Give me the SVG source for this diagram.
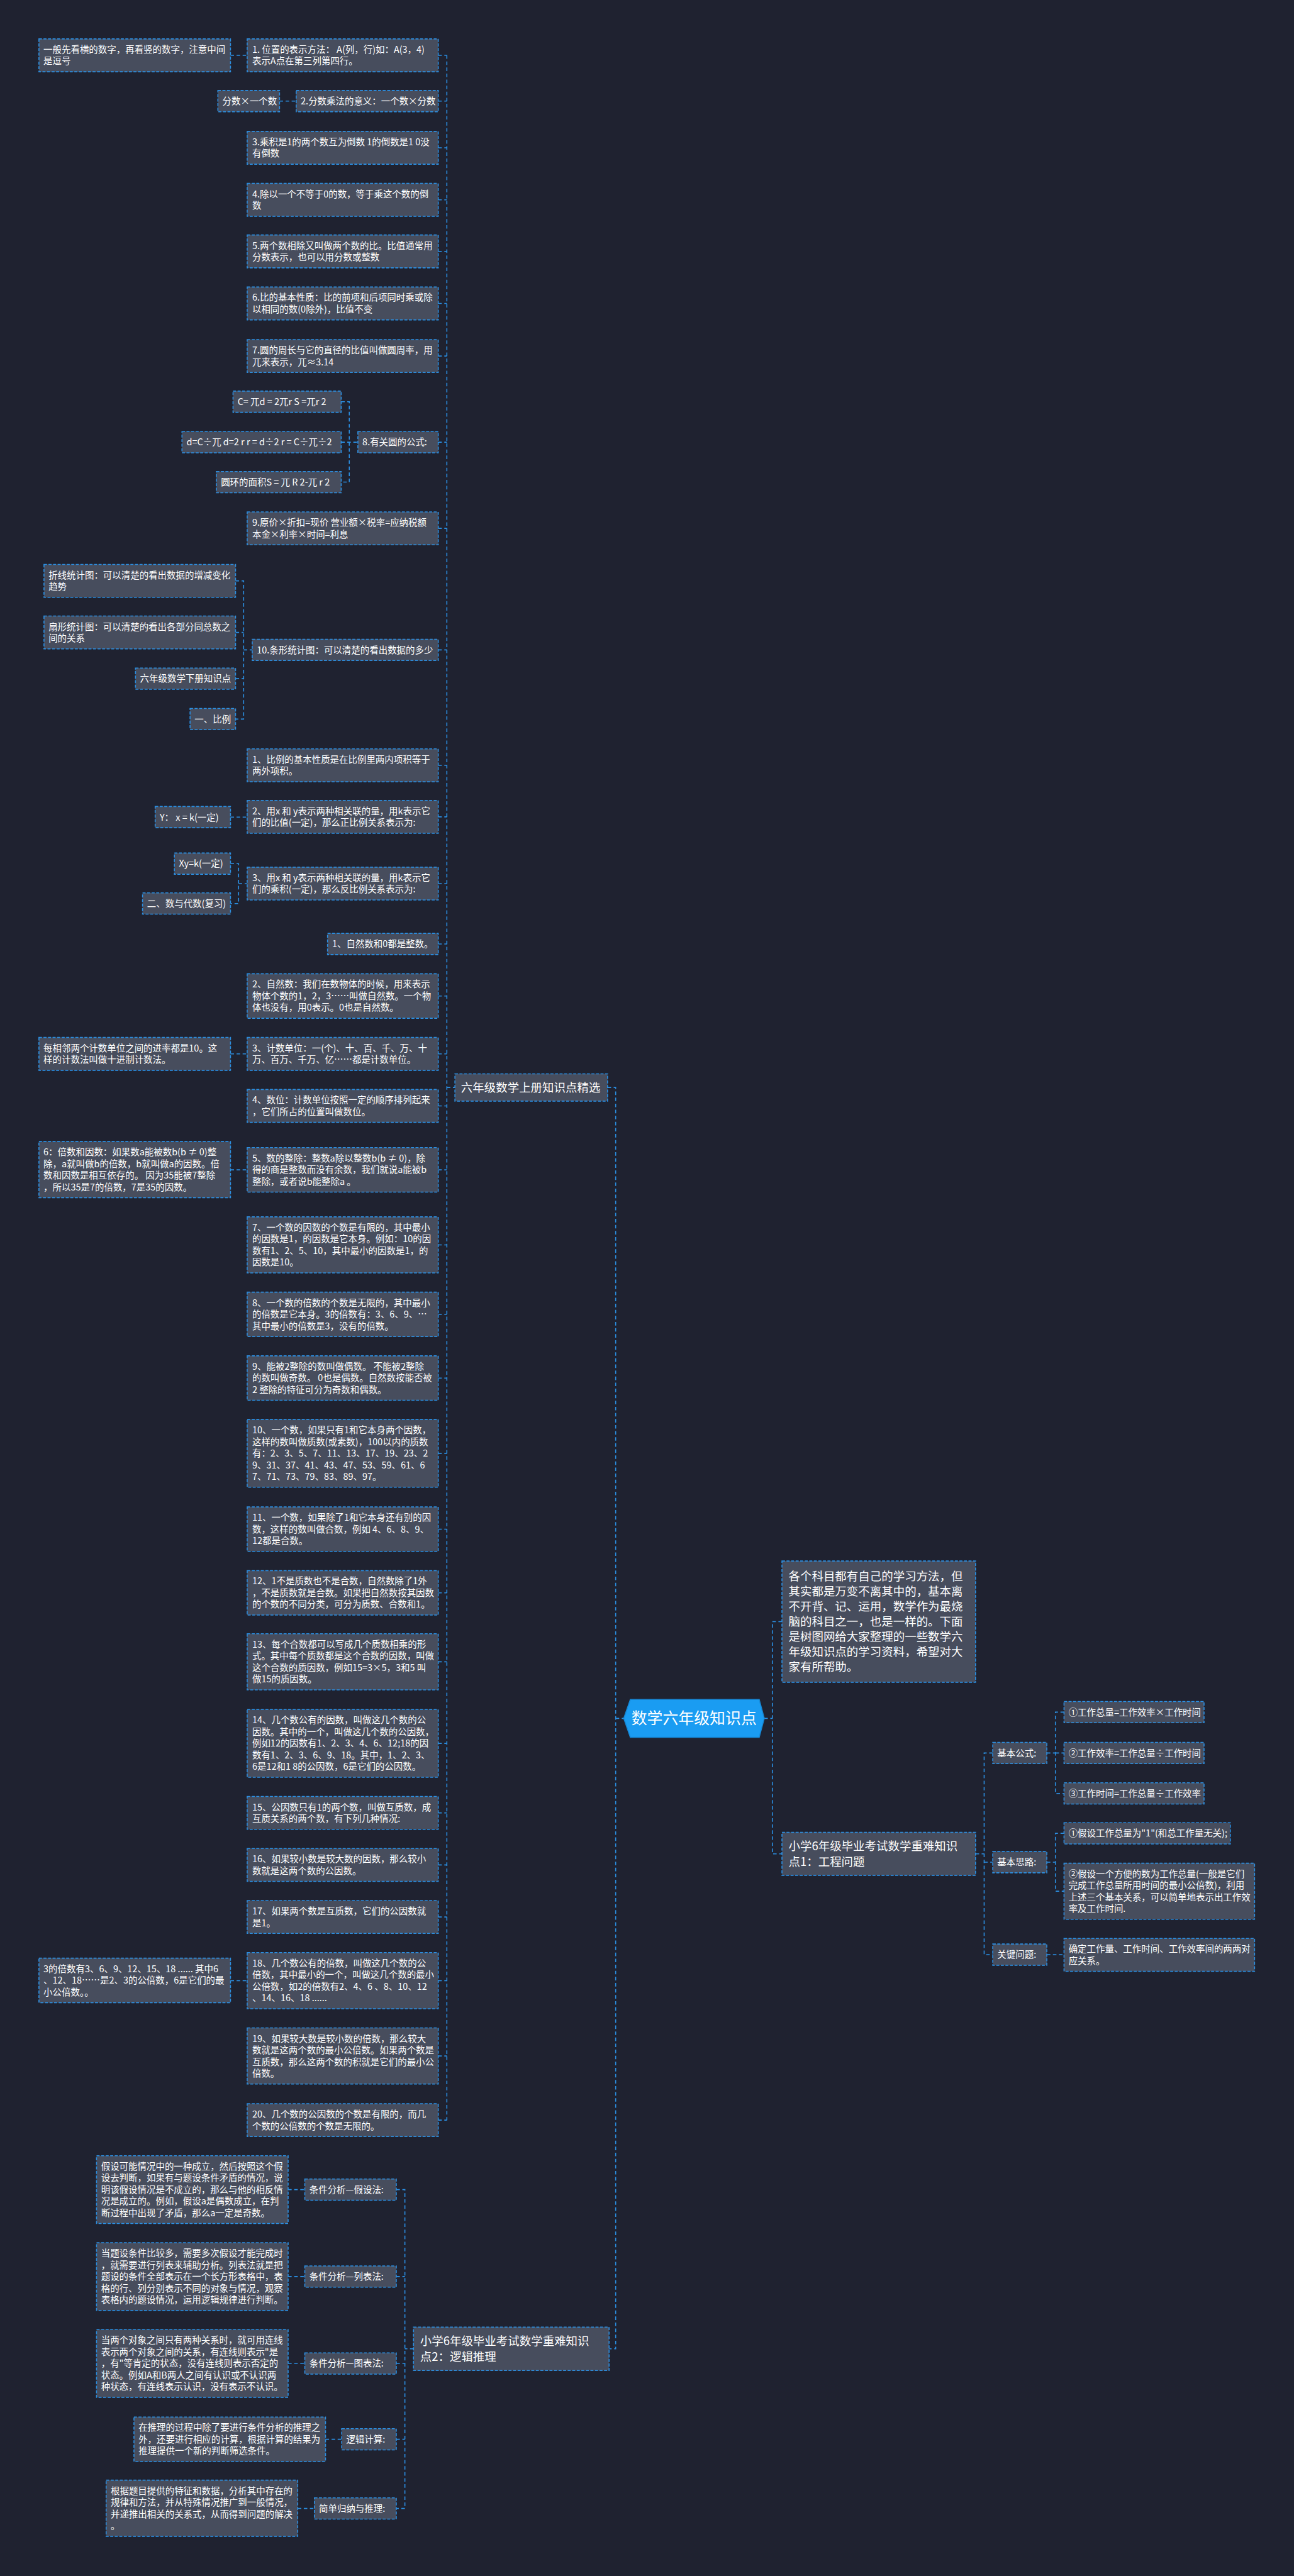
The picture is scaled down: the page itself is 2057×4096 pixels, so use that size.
<svg xmlns="http://www.w3.org/2000/svg" width="2057" height="4096" viewBox="0 0 2057 4096">
<style>
.n rect{fill:#474d5d;stroke:#2b8fe2;stroke-width:2;stroke-dasharray:6 3}
.n text{font-family:"Noto Sans CJK SC","Noto Sans",sans-serif;font-size:18px;fill:#ffffff}
.b text{font-size:23px}
.c path{fill:none;stroke:#2b8fe2;stroke-width:2;stroke-dasharray:7 5}
.ctr text{font-family:"Noto Sans CJK SC","Noto Sans",sans-serif;font-size:31px;fill:#ffffff}
</style>
<rect x="0" y="0" width="2057" height="4096" fill="#1f2230"/>
<g transform="scale(0.80352)">
<g id="connectors" class="c">
<path d="M884 109.5V4195.5"/>
<path d="M867 109.5H884M867 200H884M867 292.5H884M867 395.5H884M867 497.5H884M867 600.5H884M867 704.5H884M867 875H884M867 1045.5H884M867 1286H884M867 1514.5H884M867 1616.5H884M867 1748.5H884M867 1868H884M867 1971H884M867 2085.5H884M867 2188.5H884M867 2315H884M867 2463.5H884M867 2601H884M867 2727H884M867 2876H884M867 3026H884M867 3152H884M867 3288.5H884M867 3450H884M867 3587.5H884M867 3690.5H884M867 3793.5H884M867 3919.5H884M867 4068.5H884M867 4195.5H884"/>
<path d="M884 2152H900"/>
<path d="M456 109.5H489M553 200H586"/>
<path d="M675 795H691V954H675M675 875H708"/>
<path d="M466 1149.5H482V1423H466M466 1251.5H482M466 1343H482M482 1286H499"/>
<path d="M456 1617H489M456 1709H472V1788H456M472 1748.5H489"/>
<path d="M456 2085.5H489M456 2315H489M456 3919.5H489"/>
<path d="M1202 2152H1218V4648H1205M1218 3400.5H1234"/>
<path d="M818 4648H801M784 4333H801V4964H784M784 4505H801M784 4677H801M784 4827H801"/>
<path d="M570 4333H603M570 4505H603M570 4677H603M644 4827H676M589 4964H622"/>
<path d="M1512 3400.5H1528M1547 3209H1528V3668.5H1547"/>
<path d="M1930 3668.5H1947M1964 3469H1947V3868H1964M1947 3685H1964"/>
<path d="M2071 3469H2088M2105 3388H2088V3549H2105M2088 3469H2105"/>
<path d="M2071 3685H2088M2105 3628H2088V3742.5H2105"/>
<path d="M2071 3868H2105"/>
</g>

<g id="center" class="ctr"><polygon points="1234,3400.5 1247,3363 1502,3363 1512,3400.5 1502,3438 1247,3438" fill="#1a9cf2" stroke="#1688d6" stroke-width="2"/><text x="1373" y="3411.5" text-anchor="middle">数学六年级知识点</text></g>

<g id="B1" class="n b"><rect x="900" y="2125" width="302" height="54"/><text x="912" y="2160">六年级数学上册知识点精选</text></g>
<g id="B2" class="n b"><rect x="1547" y="3626" width="383" height="85"/><text x="1560" y="3661"><tspan x="1560">小学6年级毕业考试数学重难知识</tspan><tspan x="1560" dy="31">点1：工程问题</tspan></text></g>
<g id="B3" class="n b"><rect x="818" y="4605" width="387" height="86"/><text x="831" y="4640.5"><tspan x="831">小学6年级毕业考试数学重难知识</tspan><tspan x="831" dy="31">点2：逻辑推理</tspan></text></g>
<g id="R1" class="n b"><rect x="1547" y="3089" width="383" height="240"/><text x="1560" y="3127"><tspan x="1560">各个科目都有自己的学习方法，但</tspan><tspan x="1560" dy="30">其实都是万变不离其中的，基本离</tspan><tspan x="1560" dy="30">不开背、记、运用，数学作为最烧</tspan><tspan x="1560" dy="30">脑的科目之一，也是一样的。下面</tspan><tspan x="1560" dy="30">是树图网给大家整理的一些数学六</tspan><tspan x="1560" dy="30">年级知识点的学习资料，希望对大</tspan><tspan x="1560" dy="30">家有所帮助。</tspan></text></g>

<g id="D1" class="n"><rect x="1964" y="3448" width="107" height="42"/><text x="1973" y="3475.5">基本公式:</text></g>
<g id="D2" class="n"><rect x="1964" y="3664" width="107" height="42"/><text x="1973" y="3691.5">基本思路:</text></g>
<g id="D3" class="n"><rect x="1964" y="3847" width="107" height="42"/><text x="1973" y="3874.5">关键问题:</text></g>
<g id="E1" class="n"><rect x="2105" y="3367" width="277" height="42"/><text x="2114" y="3394.5">①工作总量=工作效率×工作时间</text></g>
<g id="E2" class="n"><rect x="2105" y="3448" width="277" height="42"/><text x="2114" y="3475.5">②工作效率=工作总量÷工作时间</text></g>
<g id="E3" class="n"><rect x="2105" y="3528" width="277" height="42"/><text x="2114" y="3555.5">③工作时间=工作总量÷工作效率</text></g>
<g id="E4" class="n"><rect x="2105" y="3607" width="329" height="42"/><text x="2114" y="3634.5">①假设工作总量为"1"(和总工作量无关);</text></g>
<g id="E5" class="n"><rect x="2105" y="3687" width="377" height="111"/><text x="2114" y="3714.5"><tspan x="2114">②假设一个方便的数为工作总量(一般是它们</tspan><tspan x="2114" dy="23">完成工作总量所用时间的最小公倍数)，利用</tspan><tspan x="2114" dy="23">上述三个基本关系，可以简单地表示出工作效</tspan><tspan x="2114" dy="23">率及工作时间.</tspan></text></g>
<g id="E6" class="n"><rect x="2105" y="3836" width="377" height="65"/><text x="2114" y="3863.5"><tspan x="2114">确定工作量、工作时间、工作效率间的两两对</tspan><tspan x="2114" dy="23">应关系。</tspan></text></g>

<g id="L1" class="n"><rect x="489" y="77" width="378" height="65"/><text x="499" y="104.5"><tspan x="499">1. 位置的表示方法： A(列，行)如：A(3，4)</tspan><tspan x="499" dy="23">表示A点在第三列第四行。</tspan></text></g>
<g id="A0" class="n"><rect x="77" y="77" width="379" height="65"/><text x="86" y="104.5"><tspan x="86">一般先看横的数字，再看竖的数字，注意中间</tspan><tspan x="86" dy="23">是逗号</tspan></text></g>
<g id="L2" class="n"><rect x="586" y="179" width="281" height="42"/><text x="595" y="206.5">2.分数乘法的意义：一个数×分数</text></g>
<g id="A1" class="n"><rect x="431" y="179" width="122" height="42"/><text x="440" y="206.5">分数×一个数</text></g>
<g id="L3" class="n"><rect x="489" y="260" width="378" height="65"/><text x="499" y="287.5"><tspan x="499">3.乘积是1的两个数互为倒数 1的倒数是1 0没</tspan><tspan x="499" dy="23">有倒数</tspan></text></g>
<g id="L4" class="n"><rect x="489" y="363" width="378" height="65"/><text x="499" y="390.5"><tspan x="499">4.除以一个不等于0的数，等于乘这个数的倒</tspan><tspan x="499" dy="23">数</tspan></text></g>
<g id="L5" class="n"><rect x="489" y="465" width="378" height="65"/><text x="499" y="492.5"><tspan x="499">5.两个数相除又叫做两个数的比。比值通常用</tspan><tspan x="499" dy="23">分数表示，也可以用分数或整数</tspan></text></g>
<g id="L6" class="n"><rect x="489" y="568" width="378" height="65"/><text x="499" y="595.5"><tspan x="499">6.比的基本性质：比的前项和后项同时乘或除</tspan><tspan x="499" dy="23">以相同的数(0除外)，比值不变</tspan></text></g>
<g id="L7" class="n"><rect x="489" y="672" width="378" height="65"/><text x="499" y="699.5"><tspan x="499">7.圆的周长与它的直径的比值叫做圆周率，用</tspan><tspan x="499" dy="23">兀来表示，兀≈3.14</tspan></text></g>
<g id="A8a" class="n"><rect x="461" y="774" width="214" height="42"/><text x="470" y="801.5">C= 兀d = 2兀r S =兀r 2</text></g>
<g id="L8" class="n"><rect x="708" y="854" width="159" height="42"/><text x="717" y="881.5">8.有关圆的公式:</text></g>
<g id="A8b" class="n"><rect x="360" y="854" width="315" height="42"/><text x="369" y="881.5">d=C÷兀 d=2 r r = d÷2 r = C÷兀÷2</text></g>
<g id="A8c" class="n"><rect x="428" y="933" width="247" height="42"/><text x="437" y="960.5">圆环的面积S = 兀 R 2-兀 r 2</text></g>
<g id="L9" class="n"><rect x="489" y="1013" width="378" height="65"/><text x="499" y="1040.5"><tspan x="499">9.原价×折扣=现价 营业额×税率=应纳税额</tspan><tspan x="499" dy="23">本金×利率×时间=利息</tspan></text></g>
<g id="A10a" class="n"><rect x="87" y="1117" width="379" height="65"/><text x="96" y="1144.5"><tspan x="96">折线统计图：可以清楚的看出数据的增减变化</tspan><tspan x="96" dy="23">趋势</tspan></text></g>
<g id="A10b" class="n"><rect x="87" y="1219" width="379" height="65"/><text x="96" y="1246.5"><tspan x="96">扇形统计图：可以清楚的看出各部分同总数之</tspan><tspan x="96" dy="23">间的关系</tspan></text></g>
<g id="L10" class="n"><rect x="499" y="1265" width="368" height="42"/><text x="508" y="1292.5">10.条形统计图：可以清楚的看出数据的多少</text></g>
<g id="A10c" class="n"><rect x="268" y="1322" width="198" height="42"/><text x="277" y="1349.5">六年级数学下册知识点</text></g>
<g id="A10d" class="n"><rect x="376" y="1402" width="90" height="42"/><text x="385" y="1429.5">一、比例</text></g>
<g id="L11" class="n"><rect x="489" y="1482" width="378" height="65"/><text x="499" y="1509.5"><tspan x="499">1、比例的基本性质是在比例里两内项积等于</tspan><tspan x="499" dy="23">两外项积。</tspan></text></g>
<g id="L12" class="n"><rect x="489" y="1584" width="378" height="65"/><text x="499" y="1611.5"><tspan x="499">2、用x 和 y表示两种相关联的量，用k表示它</tspan><tspan x="499" dy="23">们的比值(一定)，那么正比例关系表示为:</tspan></text></g>
<g id="A12" class="n"><rect x="307" y="1596" width="149" height="42"/><text x="316" y="1623.5">Y： x = k(一定)</text></g>
<g id="A13a" class="n"><rect x="345" y="1688" width="111" height="42"/><text x="354" y="1715.5">Xy=k(一定)</text></g>
<g id="L13" class="n"><rect x="489" y="1716" width="378" height="65"/><text x="499" y="1743.5"><tspan x="499">3、用x 和 y表示两种相关联的量，用k表示它</tspan><tspan x="499" dy="23">们的乘积(一定)，那么反比例关系表示为:</tspan></text></g>
<g id="A13b" class="n"><rect x="282" y="1767" width="174" height="42"/><text x="291" y="1794.5">二、数与代数(复习)</text></g>
<g id="L14" class="n"><rect x="648" y="1847" width="219" height="42"/><text x="657" y="1874.5">1、自然数和0都是整数。</text></g>
<g id="L15" class="n"><rect x="489" y="1927" width="378" height="88"/><text x="499" y="1954.5"><tspan x="499">2、自然数：我们在数物体的时候，用来表示</tspan><tspan x="499" dy="23">物体个数的1，2，3……叫做自然数。一个物</tspan><tspan x="499" dy="23">体也没有，用0表示。0也是自然数。</tspan></text></g>
<g id="L16" class="n"><rect x="489" y="2053" width="378" height="65"/><text x="499" y="2080.5"><tspan x="499">3、计数单位：一(个)、十、百、千、万、十</tspan><tspan x="499" dy="23">万、百万、千万、亿……都是计数单位。</tspan></text></g>
<g id="A16" class="n"><rect x="77" y="2053" width="379" height="65"/><text x="86" y="2080.5"><tspan x="86">每相邻两个计数单位之间的进率都是10。这</tspan><tspan x="86" dy="23">样的计数法叫做十进制计数法。</tspan></text></g>
<g id="L17" class="n"><rect x="489" y="2156" width="378" height="65"/><text x="499" y="2183.5"><tspan x="499">4、数位：计数单位按照一定的顺序排列起来</tspan><tspan x="499" dy="23">，它们所占的位置叫做数位。</tspan></text></g>
<g id="A18" class="n"><rect x="77" y="2259" width="379" height="111"/><text x="86" y="2286.5"><tspan x="86">6：倍数和因数：如果数a能被数b(b ≠ 0)整</tspan><tspan x="86" dy="23">除，a就叫做b的倍数，b就叫做a的因数。倍</tspan><tspan x="86" dy="23">数和因数是相互依存的。 因为35能被7整除</tspan><tspan x="86" dy="23">，所以35是7的倍数，7是35的因数。</tspan></text></g>
<g id="L18" class="n"><rect x="489" y="2271" width="378" height="88"/><text x="499" y="2298.5"><tspan x="499">5、数的整除：整数a除以整数b(b ≠ 0)，除</tspan><tspan x="499" dy="23">得的商是整数而没有余数，我们就说a能被b</tspan><tspan x="499" dy="23">整除，或者说b能整除a 。</tspan></text></g>
<g id="L19" class="n"><rect x="489" y="2408" width="378" height="111"/><text x="499" y="2435.5"><tspan x="499">7、一个数的因数的个数是有限的，其中最小</tspan><tspan x="499" dy="23">的因数是1，的因数是它本身。例如：10的因</tspan><tspan x="499" dy="23">数有1、2、5、10，其中最小的因数是1，的</tspan><tspan x="499" dy="23">因数是10。</tspan></text></g>
<g id="L20" class="n"><rect x="489" y="2557" width="378" height="88"/><text x="499" y="2584.5"><tspan x="499">8、一个数的倍数的个数是无限的，其中最小</tspan><tspan x="499" dy="23">的倍数是它本身。3的倍数有：3、6、9、…</tspan><tspan x="499" dy="23">其中最小的倍数是3，没有的倍数。</tspan></text></g>
<g id="L21" class="n"><rect x="489" y="2683" width="378" height="88"/><text x="499" y="2710.5"><tspan x="499">9、能被2整除的数叫做偶数。 不能被2整除</tspan><tspan x="499" dy="23">的数叫做奇数。 0也是偶数。自然数按能否被</tspan><tspan x="499" dy="23">2 整除的特征可分为奇数和偶数。</tspan></text></g>
<g id="L22" class="n"><rect x="489" y="2809" width="378" height="134"/><text x="499" y="2836.5"><tspan x="499">10、一个数，如果只有1和它本身两个因数，</tspan><tspan x="499" dy="23">这样的数叫做质数(或素数)，100以内的质数</tspan><tspan x="499" dy="23">有：2、3、5、7、11、13、17、19、23、2</tspan><tspan x="499" dy="23">9、31、37、41、43、47、53、59、61、6</tspan><tspan x="499" dy="23">7、71、73、79、83、89、97。</tspan></text></g>
<g id="L23" class="n"><rect x="489" y="2982" width="378" height="88"/><text x="499" y="3009.5"><tspan x="499">11、一个数，如果除了1和它本身还有别的因</tspan><tspan x="499" dy="23">数，这样的数叫做合数，例如 4、6、8、9、</tspan><tspan x="499" dy="23">12都是合数。</tspan></text></g>
<g id="L24" class="n"><rect x="489" y="3108" width="378" height="88"/><text x="499" y="3135.5"><tspan x="499">12、1不是质数也不是合数，自然数除了1外</tspan><tspan x="499" dy="23">，不是质数就是合数。如果把自然数按其因数</tspan><tspan x="499" dy="23">的个数的不同分类，可分为质数、合数和1。</tspan></text></g>
<g id="L25" class="n"><rect x="489" y="3233" width="378" height="111"/><text x="499" y="3260.5"><tspan x="499">13、每个合数都可以写成几个质数相乘的形</tspan><tspan x="499" dy="23">式。其中每个质数都是这个合数的因数，叫做</tspan><tspan x="499" dy="23">这个合数的质因数，例如15=3×5，3和5 叫</tspan><tspan x="499" dy="23">做15的质因数。</tspan></text></g>
<g id="L26" class="n"><rect x="489" y="3383" width="378" height="134"/><text x="499" y="3410.5"><tspan x="499">14、几个数公有的因数，叫做这几个数的公</tspan><tspan x="499" dy="23">因数。其中的一个，叫做这几个数的公因数，</tspan><tspan x="499" dy="23">例如12的因数有1、2、3、4、6、12;18的因</tspan><tspan x="499" dy="23">数有1、2、3、6、9、18。其中，1、2、3、</tspan><tspan x="499" dy="23">6是12和1 8的公因数，6是它们的公因数。</tspan></text></g>
<g id="L27" class="n"><rect x="489" y="3555" width="378" height="65"/><text x="499" y="3582.5"><tspan x="499">15、公因数只有1的两个数，叫做互质数，成</tspan><tspan x="499" dy="23">互质关系的两个数，有下列几种情况:</tspan></text></g>
<g id="L28" class="n"><rect x="489" y="3658" width="378" height="65"/><text x="499" y="3685.5"><tspan x="499">16、如果较小数是较大数的因数，那么较小</tspan><tspan x="499" dy="23">数就是这两个数的公因数。</tspan></text></g>
<g id="L29" class="n"><rect x="489" y="3761" width="378" height="65"/><text x="499" y="3788.5"><tspan x="499">17、如果两个数是互质数，它们的公因数就</tspan><tspan x="499" dy="23">是1。</tspan></text></g>
<g id="A30" class="n"><rect x="77" y="3875" width="379" height="88"/><text x="86" y="3902.5"><tspan x="86">3的倍数有3、6、9、12、15、18 ...... 其中6</tspan><tspan x="86" dy="23">、12、18……是2、3的公倍数，6是它们的最</tspan><tspan x="86" dy="23">小公倍数。。</tspan></text></g>
<g id="L30" class="n"><rect x="489" y="3864" width="378" height="111"/><text x="499" y="3891.5"><tspan x="499">18、几个数公有的倍数，叫做这几个数的公</tspan><tspan x="499" dy="23">倍数，其中最小的一个，叫做这几个数的最小</tspan><tspan x="499" dy="23">公倍数，如2的倍数有2、4、6 、8、10、12</tspan><tspan x="499" dy="23">、14、16、18 ......</tspan></text></g>
<g id="L31" class="n"><rect x="489" y="4013" width="378" height="111"/><text x="499" y="4040.5"><tspan x="499">19、如果较大数是较小数的倍数，那么较大</tspan><tspan x="499" dy="23">数就是这两个数的最小公倍数。如果两个数是</tspan><tspan x="499" dy="23">互质数，那么这两个数的积就是它们的最小公</tspan><tspan x="499" dy="23">倍数。</tspan></text></g>
<g id="L32" class="n"><rect x="489" y="4163" width="378" height="65"/><text x="499" y="4190.5"><tspan x="499">20、几个数的公因数的个数是有限的，而几</tspan><tspan x="499" dy="23">个数的公倍数的个数是无限的。</tspan></text></g>

<g id="K1" class="n"><rect x="603" y="4312" width="181" height="42"/><text x="612" y="4339.5">条件分析—假设法:</text></g>
<g id="K2" class="n"><rect x="603" y="4484" width="181" height="42"/><text x="612" y="4511.5">条件分析—列表法:</text></g>
<g id="K3" class="n"><rect x="603" y="4656" width="181" height="42"/><text x="612" y="4683.5">条件分析—图表法:</text></g>
<g id="K4" class="n"><rect x="676" y="4806" width="108" height="42"/><text x="685" y="4833.5">逻辑计算:</text></g>
<g id="K5" class="n"><rect x="622" y="4943" width="162" height="42"/><text x="631" y="4970.5">简单归纳与推理:</text></g>
<g id="C1" class="n"><rect x="191" y="4266" width="379" height="134"/><text x="200" y="4293.5"><tspan x="200">假设可能情况中的一种成立，然后按照这个假</tspan><tspan x="200" dy="23">设去判断，如果有与题设条件矛盾的情况，说</tspan><tspan x="200" dy="23">明该假设情况是不成立的，那么与他的相反情</tspan><tspan x="200" dy="23">况是成立的。例如，假设a是偶数成立，在判</tspan><tspan x="200" dy="23">断过程中出现了矛盾，那么a一定是奇数。</tspan></text></g>
<g id="C2" class="n"><rect x="191" y="4438" width="379" height="134"/><text x="200" y="4465.5"><tspan x="200">当题设条件比较多，需要多次假设才能完成时</tspan><tspan x="200" dy="23">，就需要进行列表来辅助分析。列表法就是把</tspan><tspan x="200" dy="23">题设的条件全部表示在一个长方形表格中，表</tspan><tspan x="200" dy="23">格的行、列分别表示不同的对象与情况，观察</tspan><tspan x="200" dy="23">表格内的题设情况，运用逻辑规律进行判断。</tspan></text></g>
<g id="C3" class="n"><rect x="191" y="4610" width="379" height="134"/><text x="200" y="4637.5"><tspan x="200">当两个对象之间只有两种关系时，就可用连线</tspan><tspan x="200" dy="23">表示两个对象之间的关系，有连线则表示"是</tspan><tspan x="200" dy="23">，有"等肯定的状态，没有连线则表示否定的</tspan><tspan x="200" dy="23">状态。例如A和B两人之间有认识或不认识两</tspan><tspan x="200" dy="23">种状态，有连线表示认识，没有表示不认识。</tspan></text></g>
<g id="C4" class="n"><rect x="265" y="4783" width="379" height="88"/><text x="274" y="4810.5"><tspan x="274">在推理的过程中除了要进行条件分析的推理之</tspan><tspan x="274" dy="23">外，还要进行相应的计算，根据计算的结果为</tspan><tspan x="274" dy="23">推理提供一个新的判断筛选条件。</tspan></text></g>
<g id="C5" class="n"><rect x="210" y="4908" width="379" height="111"/><text x="219" y="4935.5"><tspan x="219">根据题目提供的特征和数据，分析其中存在的</tspan><tspan x="219" dy="23">规律和方法，并从特殊情况推广到一般情况，</tspan><tspan x="219" dy="23">并递推出相关的关系式，从而得到问题的解决</tspan><tspan x="219" dy="23">。</tspan></text></g>
</g>
</svg>
